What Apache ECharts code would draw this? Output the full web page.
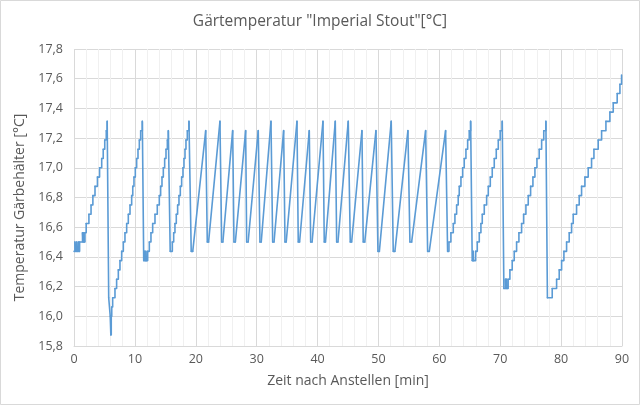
<!DOCTYPE html>
<html>
<head>
<meta charset="utf-8">
<script src="https://cdn.jsdelivr.net/npm/echarts@6/dist/echarts.min.js"></script>
<style>
  html, body { margin: 0; padding: 0; background: #fff; }
  #chart { width: 640px; height: 405px; }
</style>
</head>
<body>
<div id="chart"></div>
<script>
// Messwerte [min, °C], Sensor loest in 1/16 °C auf
// Anlauf: breite Zyklen, Treppenstufen (Wert gilt ab dem Zeitpunkt)
const startPhase = [
  [0, 16.4375], [0.15, 16.5], [0.3, 16.4375], [0.45, 16.5], [0.6, 16.4375], [0.75, 16.5], [0.85, 16.4375], [0.92, 16.5],
  [1.4, 16.5625], [1.5, 16.5], [1.6, 16.5625], [1.7, 16.5], [1.8, 16.5625],
  [2.0, 16.625], [2.45, 16.6875], [2.8, 16.75], [3.1, 16.8125], [3.45, 16.875], [3.85, 16.9375], [4.2, 17.0],
  [4.55, 17.0625], [4.8, 17.125], [5.05, 17.1875], [5.3, 17.25], [5.45, 17.3125],
  [5.7, 16.125], [5.95, 16.0], [6.05, 15.875], [6.12, 16.0], [6.2, 16.0625],
  [6.35, 16.125], [6.73, 16.1875], [7.0, 16.25], [7.28, 16.3125], [7.55, 16.375], [7.83, 16.4375], [8.1, 16.5],
  [8.37, 16.5625], [8.65, 16.625], [8.92, 16.6875], [9.2, 16.75], [9.47, 16.8125], [9.65, 16.875], [9.85, 16.9375],
  [10.07, 17.0], [10.29, 17.0625], [10.51, 17.125], [10.73, 17.1875], [10.95, 17.25], [11.22, 17.3125],
  [11.45, 16.375], [11.6, 16.4375], [11.7, 16.375], [11.8, 16.4375], [11.9, 16.375], [12.1, 16.4375],
  [12.37, 16.5], [12.64, 16.5625], [12.92, 16.625], [13.3, 16.6875], [13.68, 16.75], [14.01, 16.8125], [14.23, 16.875],
  [14.45, 16.9375], [14.67, 17.0], [14.89, 17.0625], [15.11, 17.125], [15.33, 17.1875], [15.49, 17.25],
  [15.8, 16.4375],
  [16.15, 16.5], [16.37, 16.5625], [16.58, 16.625], [16.8, 16.6875], [17.02, 16.75], [17.24, 16.8125], [17.46, 16.875],
  [17.68, 16.9375], [17.9, 17.0], [18.06, 17.0625], [18.23, 17.125], [18.39, 17.1875], [18.61, 17.25], [18.88, 17.3125],
  [19.25, 16.4375]
];

// Regelphase: schnelle Zyklen (Tal, Ende Tal, Spitze), gerade verbunden
const densePhase = [
  [19.25, 16.4375], [19.5, 16.4375], [21.63, 17.25],
  [21.89, 16.5], [22.1, 16.5], [23.97, 17.3125],
  [24.25, 16.5], [24.45, 16.5], [26.06, 17.25],
  [26.27, 16.5], [26.5, 16.5], [28.19, 17.25],
  [28.36, 16.5], [28.6, 16.5], [30.26, 17.25],
  [30.54, 16.5], [30.75, 16.5], [32.35, 17.3125],
  [32.63, 16.5], [32.85, 16.5], [34.43, 17.25],
  [34.65, 16.5], [34.85, 16.5], [36.62, 17.3125],
  [36.83, 16.5], [37.05, 16.5], [38.64, 17.25],
  [38.87, 16.5], [39.1, 16.5], [40.89, 17.3125],
  [41.1, 16.5], [41.3, 16.5], [42.91, 17.3125],
  [43.14, 16.5], [43.35, 16.5], [45.04, 17.3125],
  [45.37, 16.5], [45.6, 16.5], [47.29, 17.25],
  [47.5, 16.5], [47.75, 16.5], [49.59, 17.25],
  [49.92, 16.4375], [50.15, 16.4375], [52.1, 17.3125],
  [52.43, 16.4375], [52.7, 16.4375], [54.84, 17.25],
  [55.17, 16.5], [55.45, 16.5], [57.75, 17.25],
  [58.08, 16.4375], [58.35, 16.4375], [61.03, 17.25],
  [61.36, 16.4375]
];

// Auslauf: wieder breite Zyklen, Treppenstufen
const endPhase = [
  [61.36, 16.4375],
  [61.58, 16.5], [61.9, 16.5625], [62.29, 16.625], [62.56, 16.6875], [62.84, 16.75], [63.1, 16.8125], [63.27, 16.875],
  [63.55, 16.9375], [63.83, 17.0], [64.09, 17.0625], [64.37, 17.125], [64.65, 17.1875], [64.91, 17.25], [65.14, 17.3125],
  [65.4, 16.375], [65.55, 16.4375], [65.62, 16.375],
  [65.96, 16.4375], [66.23, 16.5], [66.56, 16.5625], [66.83, 16.625], [67.05, 16.6875], [67.38, 16.75], [67.77, 16.8125],
  [68.04, 16.875], [68.37, 16.9375], [68.69, 17.0], [69.02, 17.0625], [69.35, 17.125], [69.68, 17.1875], [70.0, 17.25],
  [70.33, 17.3125],
  [70.6, 16.1875], [70.85, 16.25], [70.95, 16.1875], [71.05, 16.25], [71.15, 16.1875], [71.3, 16.25],
  [71.59, 16.3125], [71.97, 16.375], [72.3, 16.4375], [72.69, 16.5], [73.07, 16.5625], [73.51, 16.625], [73.84, 16.6875],
  [74.22, 16.75], [74.6, 16.8125], [74.99, 16.875], [75.37, 16.9375], [75.7, 17.0], [76.03, 17.0625], [76.4, 17.125],
  [76.8, 17.1875], [77.15, 17.25], [77.5, 17.3125],
  [77.75, 16.125],
  [78.54, 16.1875], [79.26, 16.25], [79.69, 16.3125], [80.08, 16.375], [80.46, 16.4375], [80.9, 16.5], [81.33, 16.5625],
  [81.72, 16.625], [81.99, 16.6875], [82.54, 16.75], [82.97, 16.8125], [83.36, 16.875], [83.91, 16.9375], [84.45, 17.0],
  [85.0, 17.0625], [85.39, 17.125], [86.09, 17.1875], [86.65, 17.25], [87.36, 17.3125], [88.01, 17.375], [88.56, 17.4375],
  [89.21, 17.5], [89.66, 17.5625], [89.93, 17.625]
];

const xRange = [0, 90, 10];      // min, max, interval
const yRange = [15.8, 17.8, 0.2];

const font = '"Open Sans", Lato, sans-serif';
const textColor = '#595959';
const gridColor = '#d9d9d9';
const lineColor = '#5b9bd5';

// je Messpunkt ein Stueck bis zum naechsten: [t, wert, tNaechster, wertNaechster]
function pieces(points) {
  const out = [];
  for (let i = 0; i < points.length - 1; i++) {
    out.push([points[i][0], points[i][1], points[i + 1][0], points[i + 1][1]]);
  }
  return out;
}

// Eigene Serie statt type:'line', weil die Linie Stufen unter 2px verschluckt.
// Anstieg als Treppe, Abfall als gerade Linie
function tempSeries(points, step) {
  return {
    type: 'custom',
    silent: true,
    data: pieces(points),
    encode: { x: [0, 2], y: [1, 3] },
    renderItem: (params, api) => {
      const a = api.coord([api.value(0), api.value(1)]);
      const b = api.coord([api.value(2), api.value(3)]);
      const rising = api.value(3) >= api.value(1);
      const pts = step && rising ? [a, [b[0], a[1]], b] : [a, b];
      return {
        type: 'polyline',
        shape: { points: pts },
        style: { stroke: lineColor, lineWidth: 1.6, fill: null, lineCap: 'round', lineJoin: 'round' }
      };
    },
    z: 3
  };
}

const chart = echarts.init(document.getElementById('chart'));
chart.setOption({
  animation: false,
  backgroundColor: '#fff',
  textStyle: { fontFamily: font },
  title: {
    text: 'Gärtemperatur "Imperial Stout"[°C]',
    left: 'center',
    top: 9,
    textStyle: { fontFamily: font, fontSize: 15.5, fontWeight: 'normal', color: textColor }
  },
  graphic: [{
    type: 'rect',
    shape: { x: 0.5, y: 0.5, width: 639, height: 404 },
    style: { fill: 'none', stroke: gridColor, lineWidth: 1 },
    silent: true
  }],
  grid: { left: 74, right: 18, top: 49, bottom: 59 },
  xAxis: {
    type: 'value',
    min: xRange[0], max: xRange[1], interval: xRange[2],
    name: 'Zeit nach Anstellen [min]',
    nameLocation: 'middle',
    nameGap: 28,
    nameTextStyle: { fontFamily: font, fontSize: 14, color: textColor },
    axisLine: { show: true, onZero: false, lineStyle: { color: gridColor } },
    axisTick: { show: false },
    axisLabel: { margin: 7, fontFamily: font, fontSize: 12.5, color: textColor },
    splitLine: { show: true, lineStyle: { color: gridColor } },
    minorTick: { show: false, splitNumber: 5 },
    minorSplitLine: { show: true, lineStyle: { color: '#f0f0f0' } }
  },
  yAxis: {
    type: 'value',
    min: yRange[0], max: yRange[1], interval: yRange[2],
    name: 'Temperatur Gärbehälter [°C]',
    nameLocation: 'middle',
    nameGap: 39,
    nameTextStyle: { fontFamily: font, fontSize: 14, color: textColor, padding: [0, 20, 0, 0] },
    axisLine: { show: false },
    axisTick: { show: false },
    axisLabel: {
      margin: 11, fontFamily: font, fontSize: 12.5, color: textColor,
      formatter: v => v.toFixed(1).replace('.', ',')
    },
    splitLine: { show: true, lineStyle: { color: gridColor } }
  },
  series: [
    tempSeries(startPhase, true),
    tempSeries(densePhase, false),
    tempSeries(endPhase, true)
  ]
});
</script>
</body>
</html>
